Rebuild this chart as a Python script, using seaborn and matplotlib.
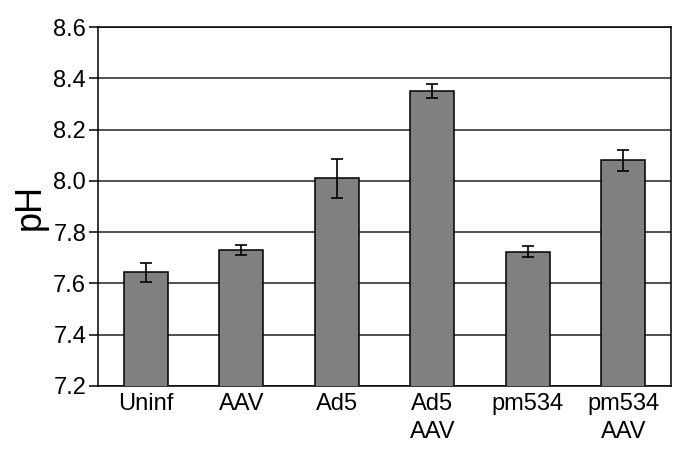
import numpy as np
import matplotlib
matplotlib.use("Agg")
import matplotlib.pyplot as plt
import seaborn as sns

# valores
categorias = ["Uninf", "AAV", "Ad5", "Ad5\nAAV", "pm534", "pm534\nAAV"]
ph_medio = [7.643, 7.730, 8.010, 8.352, 7.724, 8.080]
ph_erro = [0.036, 0.020, 0.077, 0.027, 0.022, 0.041]

sns.set_style("white")
plt.rcParams["font.family"] = ["Liberation Sans", "DejaVu Sans"]
plt.rcParams["text.color"] = "black"
plt.rcParams["axes.labelcolor"] = "black"
plt.rcParams["xtick.color"] = "black"
plt.rcParams["ytick.color"] = "black"

fig = plt.figure(figsize=(6.9, 4.61), dpi=100)
ax = fig.add_axes([0.142, 0.163, 0.8305, 0.778])

sns.barplot(x=categorias, y=ph_medio, color="#808080", edgecolor="black",
            linewidth=1.1, width=0.46, saturation=1, ax=ax, zorder=3)
ax.errorbar(np.arange(len(categorias)), ph_medio, yerr=ph_erro, fmt="none",
            ecolor="black", elinewidth=1.2, capsize=4, capthick=1.2, zorder=4)

ax.set_ylim(7.2, 8.6)
ax.set_xlim(-0.5, len(categorias) - 0.5)
ax.set_yticks(np.arange(7.2, 8.61, 0.2))
ax.set_yticklabels([f"{v:.1f}" for v in np.arange(7.2, 8.61, 0.2)], fontsize=17)
ax.yaxis.grid(True, color="#222222", linewidth=1.1, zorder=0)
ax.set_axisbelow(True)

ax.set_xticks(range(len(categorias)))
ax.set_xticklabels(categorias, fontsize=17, linespacing=1.35)
ax.set_xticks(np.arange(-0.5, len(categorias), 1.0), minor=True)
ax.tick_params(axis="x", which="major", length=0, pad=5)
ax.tick_params(axis="x", which="minor", length=6, width=1.1, color="black", direction="out")
ax.tick_params(axis="y", length=6.5, width=1.1, color="black", direction="out", left=True, pad=2)

for s in ax.spines.values():
    s.set_color("black")
    s.set_linewidth(1.1)

ax.set_ylabel("pH", fontsize=26, labelpad=4)
ax.set_xlabel("")

fig.savefig("out.png", dpi=100)
